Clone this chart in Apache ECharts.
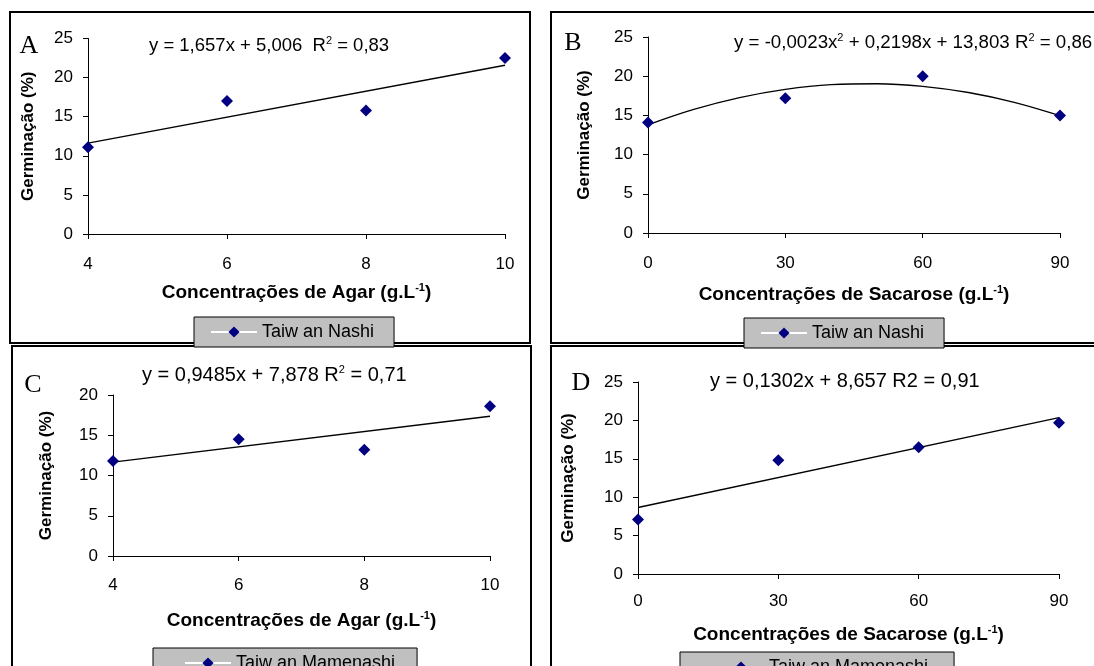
<!DOCTYPE html>
<html><head><meta charset="utf-8">
<script src="https://cdn.jsdelivr.net/npm/echarts@6/dist/echarts.min.js"></script>
<style>html,body{margin:0;padding:0;background:#fff}#c{width:1094px;height:666px}</style>
</head><body><div id="c"></div>
<script>
// ---- data ----
const agarX = [4, 6, 8, 10];
const sacaroseX = [0, 30, 60, 90];
const germA = [11.1, 17.0, 15.8, 22.5];   // Taiwan Nashi, agar
const germB = [14.1, 17.2, 20.0, 15.0];   // Taiwan Nashi, sacarose
const germC = [11.8, 14.5, 13.2, 18.6];   // Taiwan Mamenashi, agar
const germD = [7.1, 14.8, 16.5, 19.7];    // Taiwan Mamenashi, sacarose
// trend lines
const trendAX = [4, 10], trendAY = [11.63, 21.58];
const trendBX = [0, 10, 20, 30, 40, 50, 60, 70, 80, 90];
const trendBY = [13.8, 15.77, 17.28, 18.33, 18.92, 19.04, 18.71, 17.92, 16.67, 14.96];
const trendCX = [4, 10], trendCY = [11.67, 17.36];
const trendDX = [0, 90], trendDY = [8.66, 20.37];
const nameNashi = 'Taiw an Nashi';
const nameMamenashi = 'Taiw an Mamenashi';
const letters = ['A', 'B', 'C', 'D'];
const equations = [
  'y = 1,657x + 5,006  R{sup|2} = 0,83',
  'y = -0,0023x{sup|2} + 0,2198x + 13,803 R{sup|2} = 0,86',
  'y = 0,9485x + 7,878 R{sup|2} = 0,71',
  'y = 0,1302x + 8,657 R2 = 0,91'
];
const xTitleAgar = 'Concentrações de Agar (g.L{sup|-1})';
const xTitleSac = 'Concentrações de Sacarose (g.L{sup|-1})';
const yTitle = 'Germinação (%)';

const FONT = "'Liberation Sans', Arial, sans-serif";
const SERIF = "'Liberation Serif', 'Times New Roman', serif";
const zip = (xs, ys) => xs.map((x, i) => [x, ys[i]]);

const grids = [
  {left: 88, top: 38.5, width: 417, height: 195.5},
  {left: 648, top: 37, width: 412, height: 196},
  {left: 113, top: 395, width: 377, height: 161},
  {left: 638, top: 382, width: 421, height: 192}
];
const xCfg = [
  {min: 4, max: 10, interval: 2, name: xTitleAgar, gap: 48, margin: 22},
  {min: 0, max: 90, interval: 30, name: xTitleSac, gap: 51, margin: 22},
  {min: 4, max: 10, interval: 2, name: xTitleAgar, gap: 54, margin: 21},
  {min: 0, max: 90, interval: 30, name: xTitleSac, gap: 50, margin: 19}
];
const yCfg = [
  {max: 25, gap: 51}, {max: 25, gap: 55}, {max: 20, gap: 58}, {max: 25, gap: 61}
];
const eqSize = [18.5, 18.7, 20, 20];

const supRich = {sup: {fontSize: 11, fontWeight: 'bold', fontFamily: FONT, verticalAlign: 'top', lineHeight: 10, color: '#000'}};

const xAxis = xCfg.map((c, i) => ({
  gridIndex: i, type: 'value', min: c.min, max: c.max, interval: c.interval,
  axisLine: {show: true, onZero: false, lineStyle: {color: '#000', width: 1}},
  axisTick: {show: true, length: 5, lineStyle: {color: '#000', width: 1}},
  splitLine: {show: false},
  axisLabel: {color: '#000', fontSize: 17, fontFamily: FONT, margin: c.margin},
  name: c.name, nameLocation: 'middle', nameGap: c.gap,
  nameTextStyle: {color: '#000', fontSize: 19, fontWeight: 'bold', fontFamily: FONT, lineHeight: 22, rich: supRich}
}));
const yAxis = yCfg.map((c, i) => ({
  gridIndex: i, type: 'value', min: 0, max: c.max, interval: 5,
  axisLine: {show: true, onZero: false, lineStyle: {color: '#000', width: 1}},
  axisTick: {show: true, length: 5, lineStyle: {color: '#000', width: 1}},
  splitLine: {show: false},
  axisLabel: {color: '#000', fontSize: 17, fontFamily: FONT, margin: 15},
  name: yTitle, nameLocation: 'middle', nameGap: c.gap,
  nameTextStyle: {color: '#000', fontSize: 17, fontWeight: 'bold', fontFamily: FONT}
}));

function markerSeries(name, i, xs, ys) {
  return {
    name, type: 'line', xAxisIndex: i, yAxisIndex: i, data: zip(xs, ys),
    symbol: 'diamond', symbolSize: 12, showSymbol: true,
    itemStyle: {color: '#000080'},
    lineStyle: {opacity: 0, width: 1, color: '#000080'},
    silent: true, z: 3
  };
}
function trendSeries(i, xs, ys, smooth) {
  return {
    type: 'line', xAxisIndex: i, yAxisIndex: i, data: zip(xs, ys),
    showSymbol: false, symbol: 'none', smooth: smooth || false,
    lineStyle: {color: '#000', width: 1.3}, silent: true, z: 2
  };
}

const legendBase = {
  backgroundColor: '#c0c0c0', borderColor: '#000', borderWidth: 1, borderRadius: 0,
  itemWidth: 46, itemHeight: 14, itemGap: 0, selectedMode: false,
  textStyle: {color: '#000', fontSize: 18, fontFamily: FONT, lineHeight: 15},
  lineStyle: {color: '#fff', width: 2, opacity: 1},
  orient: 'horizontal'
};
const legends = [
  Object.assign({}, legendBase, {data: [nameNashi], left: 194, top: 317, padding: [6, 20, 6, 16]}),
  Object.assign({}, legendBase, {data: [nameNashi], left: 744, top: 318, padding: [6, 20, 6, 16]}),
  Object.assign({}, legendBase, {data: [nameMamenashi], left: 153, top: 648, padding: [6, 22, 6, 31]}),
  Object.assign({}, legendBase, {data: [nameMamenashi], left: 680, top: 652, padding: [6, 26, 6, 37]})
];

const boxes = [
  {x: 10, y: 12, w: 520, h: 331},
  {x: 551, y: 12, w: 560, h: 331},
  {x: 12, y: 346, w: 519, h: 340},
  {x: 551, y: 346, w: 560, h: 340}
];
const letterPos = [[29, 46], [573, 43], [33, 385], [581, 383]];
const eqPos = [[149, 46], [734, 43], [142, 375], [710, 381]];

const graphic = [];
boxes.forEach(b => graphic.push({
  type: 'rect', shape: {x: b.x, y: b.y, width: b.w, height: b.h},
  style: {fill: 'none', stroke: '#000', lineWidth: 2}, z: 1, silent: true
}));
letters.forEach((l, i) => graphic.push({
  type: 'text', x: letterPos[i][0], y: letterPos[i][1],
  style: {text: l, font: '26px ' + SERIF, fill: '#000', textAlign: 'center', textVerticalAlign: 'middle'}, z: 5
}));
equations.forEach((e, i) => graphic.push({
  type: 'text', x: eqPos[i][0], y: eqPos[i][1],
  style: {text: e, fontSize: eqSize[i], fontFamily: FONT, fill: '#000', textAlign: 'left', textVerticalAlign: 'middle',
    lineHeight: 21, rich: {sup: {fontSize: 11, fontFamily: FONT, verticalAlign: 'top', lineHeight: 11, fill: '#000'}}}, z: 5
}));

const chart = echarts.init(document.getElementById('c'), null, {renderer: 'canvas'});
chart.setOption({
  animation: false,
  backgroundColor: '#fff',
  grid: grids.map(g => Object.assign({containLabel: false, outerBoundsMode: 'none'}, g)),
  xAxis, yAxis,
  legend: legends,
  graphic,
  series: [
    markerSeries(nameNashi, 0, agarX, germA), trendSeries(0, trendAX, trendAY),
    markerSeries(nameNashi, 1, sacaroseX, germB), trendSeries(1, trendBX, trendBY, 0.4),
    markerSeries(nameMamenashi, 2, agarX, germC), trendSeries(2, trendCX, trendCY),
    markerSeries(nameMamenashi, 3, sacaroseX, germD), trendSeries(3, trendDX, trendDY)
  ]
});
</script></body></html>
